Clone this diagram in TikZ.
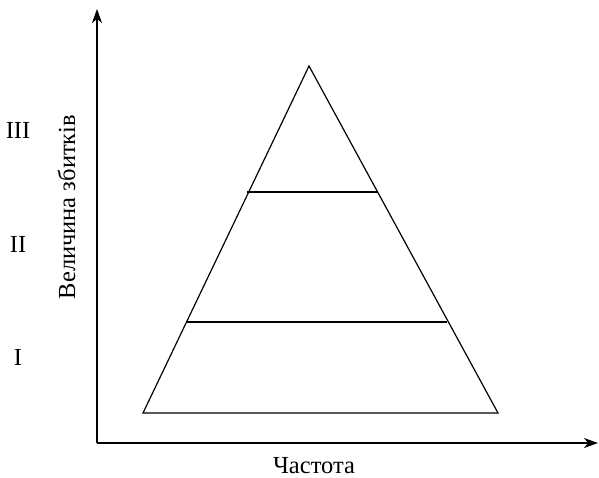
\documentclass[tikz,border=0pt]{standalone}
\usepackage{fontspec}
\setmainfont{Liberation Serif}
\usetikzlibrary{arrows.meta}
\begin{document}
\begin{tikzpicture}[x=1pt,y=-1pt,
  axis/.style={line width=1.2pt,-{Stealth[length=14pt,width=10pt,inset=4pt]}},
  edge/.style={line width=1.2pt},
  lbl/.style={font=\fontsize{24.5}{29}\selectfont,inner sep=0pt}]
\useasboundingbox (0,0) rectangle (599,477);
\coordinate (O) at (97,443);
\coordinate (Ytop) at (97,9);
\coordinate (Xend) at (598,443);
\draw[axis] (O) -- (Ytop);
\draw[axis] (O) -- (Xend);
\coordinate (A) at (309,66);
\coordinate (B) at (143,413);
\coordinate (C) at (498,413);
\draw[edge,line join=miter] (A) -- (B) -- (C) -- cycle;
\coordinate (L1) at (247,192);
\coordinate (R1) at (378,192);
\coordinate (L2) at (187,322);
\coordinate (R2) at (447,322);
\draw[edge] (L1) -- (R1);
\draw[edge] (L2) -- (R2);
\node[lbl,anchor=base] (t3) at (18,138) {III};
\node[lbl,anchor=base] (t2) at (18,252) {II};
\node[lbl,anchor=base] (t1) at (18,365) {I};
\node[lbl,rotate=90,anchor=base] (ylab) at (75,207) {Величина збитків};
\node[lbl,anchor=base] (xlab) at (314,473) {Частота};
\end{tikzpicture}
\end{document}
